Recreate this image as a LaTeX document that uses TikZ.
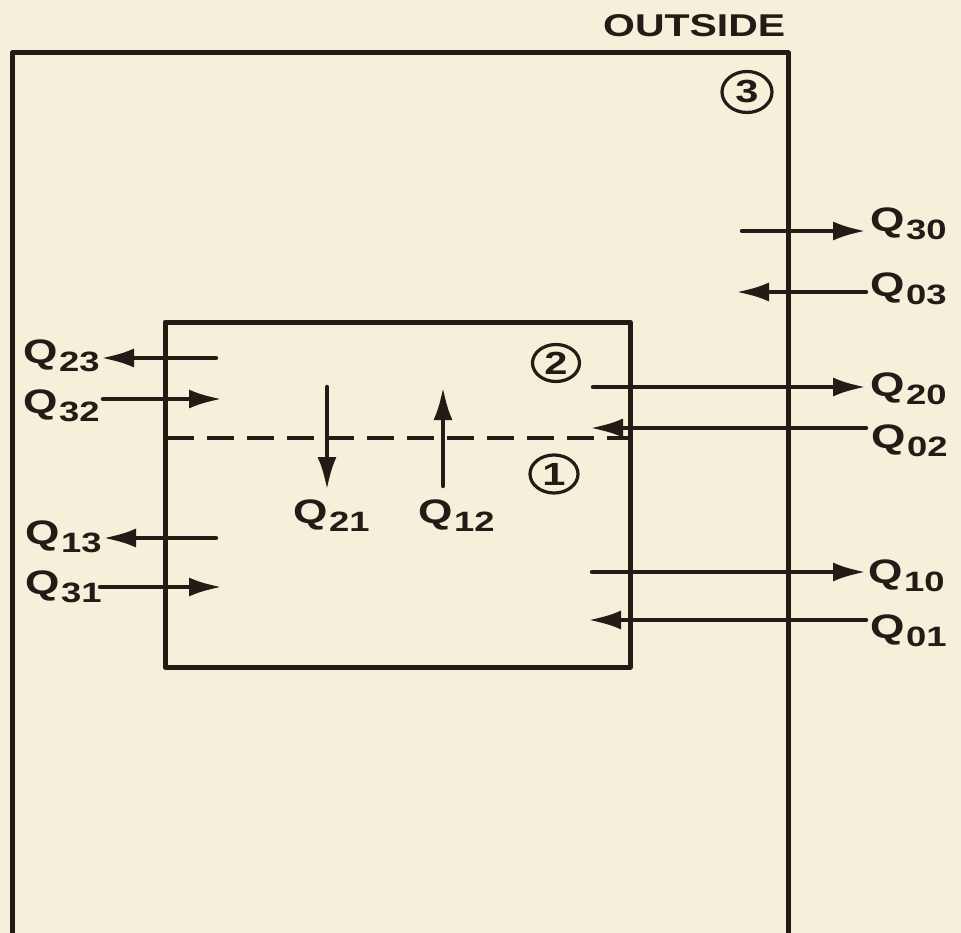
\documentclass[tikz,border=0pt]{standalone}
\usepackage{fontspec}
\setmainfont[FakeStretch=1.3]{Liberation Sans}
\usetikzlibrary{arrows.meta,shapes.geometric}
\definecolor{bg}{RGB}{246,239,217}
\definecolor{ink}{RGB}{35,27,22}
\newcommand\qlab[1]{Q\kern1.5pt\raisebox{-8pt}{\fontsize{28}{28}\selectfont #1}}
\begin{document}
\begin{tikzpicture}[x=1pt,y=-1pt,
  wall/.style={draw=ink,line width=5pt,line join=round},
  flow/.style={draw=ink,line width=4.5pt,line cap=round,-{Latex[length=33pt,width=19pt]}},
  qlabel/.style={anchor=north west,inner sep=0pt,font=\fontsize{34}{34}\selectfont\bfseries,text=ink},
  zone/.style={draw=ink,line width=3.2pt,ellipse,inner sep=0pt,text=ink,font=\fontsize{32}{32}\selectfont\bfseries}
]
\fill[bg] (0,0) rectangle (961,933);
\useasboundingbox (0,0) rectangle (961,933);
\clip (0,0) rectangle (961,933);

% outer and inner rooms
\draw[wall] (12,960) -- (12,53) -- (788,53) -- (788,960);
\draw[wall] (165,322) rectangle (630,667);
\draw[draw=ink,line width=4.5pt,dash pattern=on 27pt off 13pt] (167,438) -- (628,438);

% title and zone marks
\node[anchor=north west,inner sep=0pt,text=ink,font=\fontsize{31.5}{31.5}\selectfont\bfseries] (out) at (603,14) {OUTSIDE};
\node[zone,minimum width=50pt,minimum height=41pt] (z3) at (747,92) {3};
\node[zone,minimum width=47pt,minimum height=37pt] (z2) at (556,363) {2};
\node[zone,minimum width=48pt,minimum height=38pt] (z1) at (554,474) {1};

% labels
\node[qlabel] (q30) at (870,208) {\qlab{30}};
\node[qlabel] (q03) at (870,273) {\qlab{03}};
\node[qlabel] (q20) at (870,373) {\qlab{20}};
\node[qlabel] (q02) at (871,425) {\qlab{02}};
\node[qlabel] (q10) at (868,560) {\qlab{10}};
\node[qlabel] (q01) at (870,615) {\qlab{01}};
\node[qlabel] (q23) at (23,340) {\qlab{23}};
\node[qlabel] (q32) at (23,390) {\qlab{32}};
\node[qlabel] (q13) at (25,521) {\qlab{13}};
\node[qlabel] (q31) at (25,571) {\qlab{31}};
\node[qlabel] (q21) at (293,500) {\qlab{21}};
\node[qlabel] (q12) at (418,500) {\qlab{12}};

% arrow end points
\coordinate (a30s) at (742,231); \coordinate (a30e) at (866,231);
\coordinate (a03s) at (866,292); \coordinate (a03e) at (736,292);
\coordinate (a20s) at (593,387); \coordinate (a20e) at (866,387);
\coordinate (a02s) at (866,428); \coordinate (a02e) at (590,428);
\coordinate (a10s) at (592,572); \coordinate (a10e) at (866,572);
\coordinate (a01s) at (866,620); \coordinate (a01e) at (588,620);
\coordinate (a23s) at (216,358); \coordinate (a23e) at (101,358);
\coordinate (a32s) at (103,399); \coordinate (a32e) at (222,399);
\coordinate (a13s) at (216,538); \coordinate (a13e) at (103,538);
\coordinate (a31s) at (100,587); \coordinate (a31e) at (222,587);
\coordinate (a21s) at (327,387); \coordinate (a21e) at (327,490);
\coordinate (a12s) at (443,486); \coordinate (a12e) at (443,387);

\foreach \k in {30,03,20,02,10,01,23,32,13,31,21,12}
  \draw[flow] (a\k s) -- (a\k e);
\end{tikzpicture}
\end{document}
